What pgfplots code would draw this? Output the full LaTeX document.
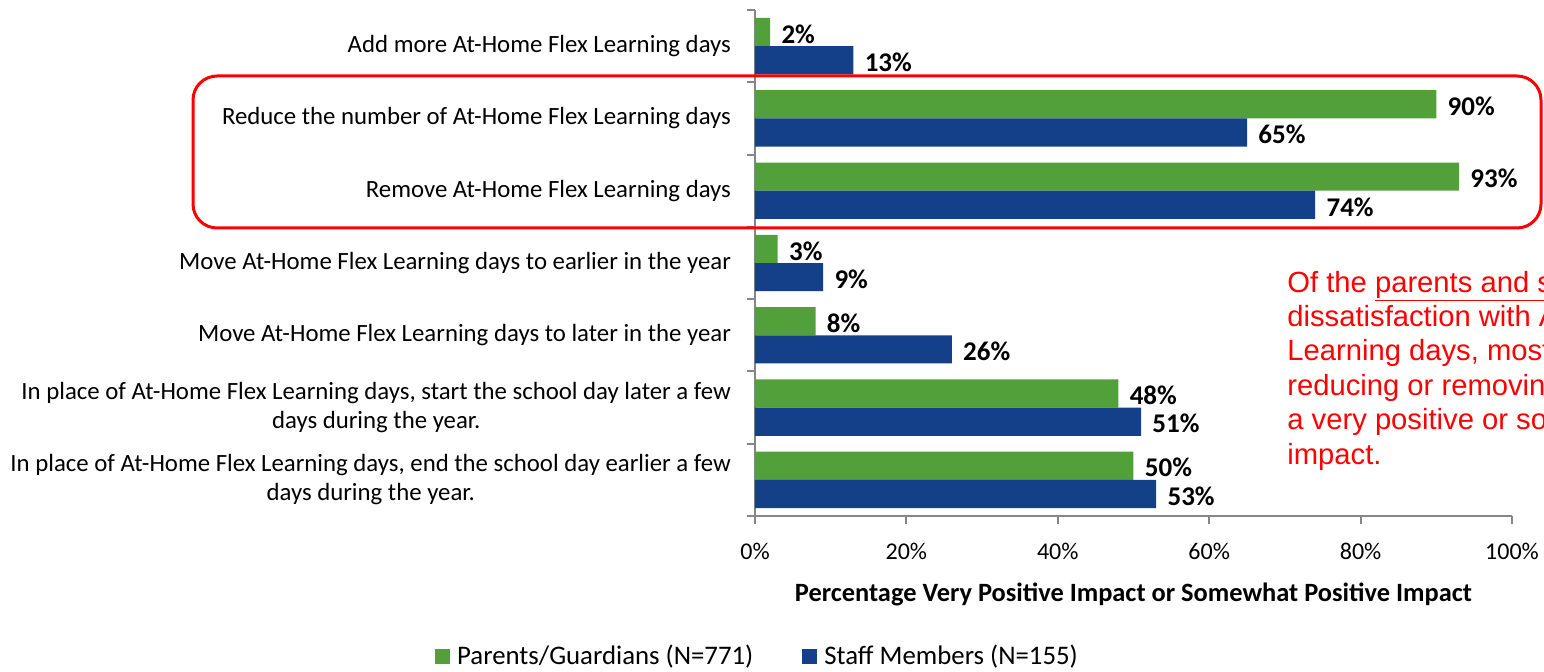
\documentclass[border=0pt]{standalone}
\usepackage{pgfplots}
\pgfplotsset{compat=1.18}
\usepackage{fontspec}
\setmainfont{Carlito}
\newfontfamily\arialfont{Liberation Sans}
\definecolor{pgreen}{RGB}{82,160,58}
\definecolor{sblue}{RGB}{19,64,137}
\definecolor{axgray}{RGB}{134,134,134}
\begin{document}
\begin{tikzpicture}[x=0.5pt,y=0.5pt]
\useasboundingbox (0,0) rectangle (1544,671);
\begin{axis}[
  at={(377.5pt,77.5pt)}, anchor=south west,
  scale only axis, width=378.5pt, height=253pt,
  xmin=0, xmax=100, ymin=-0.5, ymax=6.5,
  xbar, bar width=0.39,
  axis lines*=left,
  axis line style={axgray, line width=1pt},
  xtick={0,20,...,100},
  xticklabel={\pgfmathprintnumber{\tick}\%},
  /pgf/number format/assume math mode=true,
  ytick={0,...,6},
  yticklabels={
    {In place of At-Home Flex Learning days, end the school day earlier a few\\days during the year.},
    {In place of At-Home Flex Learning days, start the school day later a few\\days during the year.},
    {Move At-Home Flex Learning days to later in the year},
    {Move At-Home Flex Learning days to earlier in the year},
    {Remove At-Home Flex Learning days},
    {Reduce the number of At-Home Flex Learning days},
    {Add more At-Home Flex Learning days}},
  minor ytick={-0.5,0.5,...,6.5},
  tick align=outside,
  major tick length=4pt, minor tick length=4pt,
  major y tick style={draw=none},
  minor y tick style={axgray, line width=1pt},
  major x tick style={axgray, line width=1pt},
  yticklabel style={align=center, font=\fontsize{12.4}{14.5}\selectfont, xshift=-4.5pt},
  xticklabel style={font=\fontsize{12}{14}\selectfont, yshift=-6pt},
  xlabel={\bfseries Percentage Very Positive Impact or Somewhat Positive Impact},
  xlabel style={font=\fontsize{13.2}{15}\selectfont, at={(axis description cs:0.5,-0.155)}, anchor=center},
  point meta=x,
  nodes near coords={\pgfmathprintnumber{\pgfplotspointmeta}\%},
  nodes near coords style={font=\bfseries\fontsize{13.5}{15}\selectfont, anchor=west, inner sep=0pt, xshift=5.5pt, yshift=-1pt},
  legend style={at={(axis description cs:0.0066,-0.278)}, anchor=center, draw=none,
    font=\fontsize{13.4}{15}\selectfont,
    /tikz/every even column/.append style={column sep=21pt},
    /tikz/every odd column/.append style={},
    nodes={inner xsep=3.5pt}},
  legend columns=2, legend cell align=left,
  legend image code/.code={\fill[#1] (0pt,-3.75pt) rectangle (7.5pt,3.75pt);},
]
\addplot[fill=pgreen, draw=none, bar shift=0.195] coordinates {(2,6) (90,5) (93,4) (3,3) (8,2) (48,1) (50,0)};
\addplot[fill=sblue, draw=none, bar shift=-0.195] coordinates {(13,6) (65,5) (74,4) (9,3) (26,2) (51,1) (53,0)};
\legend{Parents/Guardians (N=771), Staff Members (N=155)}
\end{axis}
\draw[red, line width=1.5pt, rounded corners=12pt] (193,443) rectangle (1541,595);
\begin{scope}
\clip (0,0) rectangle (1544,671);
\begin{scope}[every node/.style={anchor=base west, inner sep=0pt, text=red, font=\arialfont\fontsize{14.6}{17}\selectfont}]
\node at (1287,379) {Of the \underline{parents and staff} who reported};
\node at (1287,344.6) {dissatisfaction with At-Home Flex};
\node at (1287,310.2) {Learning days, most felt that};
\node at (1287,275.8) {reducing or removing them would have};
\node at (1287,241.4) {a very positive or somewhat positive};
\node at (1287,207) {impact.};
\end{scope}
\end{scope}
\end{tikzpicture}
\end{document}
